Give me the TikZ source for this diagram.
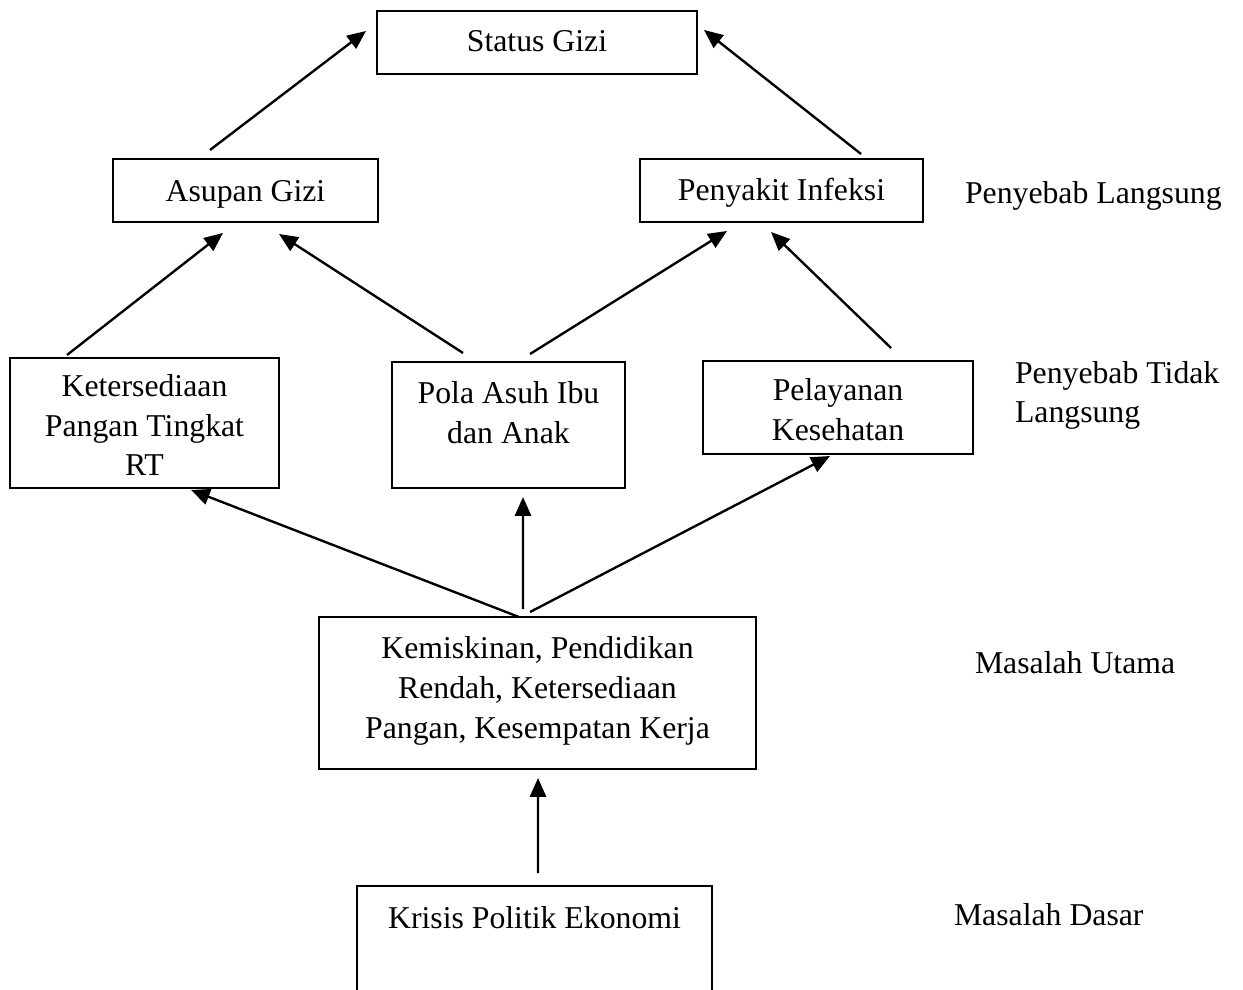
\documentclass[tikz,border=0pt]{standalone}
\usepackage{fontspec}
\setmainfont{Liberation Serif}
\usetikzlibrary{arrows.meta,calc}
\newcommand{\boxtxt}[4]{\parbox[t][#2][t]{#1}{\centering\rule{0pt}{#3}#4}}
\begin{document}
\begin{tikzpicture}[x=0.4pt,y=-0.4pt,
  every node/.style={font=\fontsize{12.7}{15.9}\selectfont},
  blk/.style={draw,line width=0.55pt,inner sep=0pt,outer sep=0pt,anchor=north west},
  lbl/.style={inner sep=0pt,outer sep=0pt,anchor=base west},
  conn/.style={line width=0.95pt,-{Triangle[length=7.5pt,width=6.4pt]}}]
\useasboundingbox (0,0) rectangle (1243,990);
\clip (0,0) rectangle (1243,990);

% boxes
\node[blk] (status) at (377,11) {\boxtxt{128pt}{25.2pt}{16.4pt}{Status Gizi}};
\node[blk] (asupan) at (113,159) {\boxtxt{106pt}{25.2pt}{17pt}{Asupan Gizi}};
\node[blk] (infeksi) at (640,159) {\boxtxt{113.2pt}{25.2pt}{16.6pt}{Penyakit Infeksi}};
\node[blk] (ket) at (10,358) {\boxtxt{107.6pt}{52pt}{15.4pt}{Ketersediaan\\Pangan Tingkat\\RT}};
\node[blk] (pola) at (392,362) {\boxtxt{93.2pt}{50.4pt}{16.8pt}{Pola Asuh Ibu\\dan Anak}};
\node[blk] (pel) at (703,361) {\boxtxt{108pt}{37.2pt}{16pt}{Pelayanan\\Kesehatan}};
\node[blk] (kem) at (319,617) {\boxtxt{174.8pt}{60.8pt}{16.6pt}{Kemiskinan, Pendidikan\\Rendah, Ketersediaan\\Pangan, Kesempatan Kerja}};
\node[blk] (krisis) at (357,886) {\boxtxt{142pt}{52pt}{17pt}{Krisis Politik Ekonomi}};

% side labels
\node[lbl] (l1) at (965,204) {Penyebab Langsung};
\node[lbl] (l2) at (1015,384) {\parbox[t]{90pt}{\raggedright\baselineskip=15.4pt Penyebab Tidak\\Langsung}};
\node[lbl] (l3) at (975,673) {Masalah Utama};
\node[lbl] (l4) at (954,925) {Masalah Dasar};

% connectors
\draw[conn] ($(asupan.north)+(-35.5,-9)$) -- ($(status.west)+(-11,-11.5)$);
\draw[conn] ($(infeksi.north)+(79.5,-5)$) -- ($(status.east)+(7,-12.5)$);
\draw[conn] ($(ket.north)+(-77.5,-3)$) -- ($(asupan.south)+(-22.5,11)$);
\draw[conn] ($(pola.north)+(-45.5,-9)$) -- ($(asupan.south)+(33.5,12)$);
\draw[conn] ($(pola.north)+(21.5,-8)$) -- ($(infeksi.south)+(-54.5,9)$);
\draw[conn] ($(pel.north)+(53,-13)$) -- ($(infeksi.south)+(-10.5,10)$);
\draw[conn] ($(kem.north)+(-18.5,0)$) -- ($(ket.south)+(46.5,2)$);
\draw[conn] ($(kem.north)+(-14.5,-8)$) -- ($(pola.south)+(14.5,9)$);
\draw[conn] ($(kem.north)+(-7.5,-5)$) -- ($(pel.south)+(-8,2)$);
\draw[conn] ($(krisis.north)+(3.5,-13)$) -- ($(kem.south)+(0.5,9)$);
\end{tikzpicture}
\end{document}
